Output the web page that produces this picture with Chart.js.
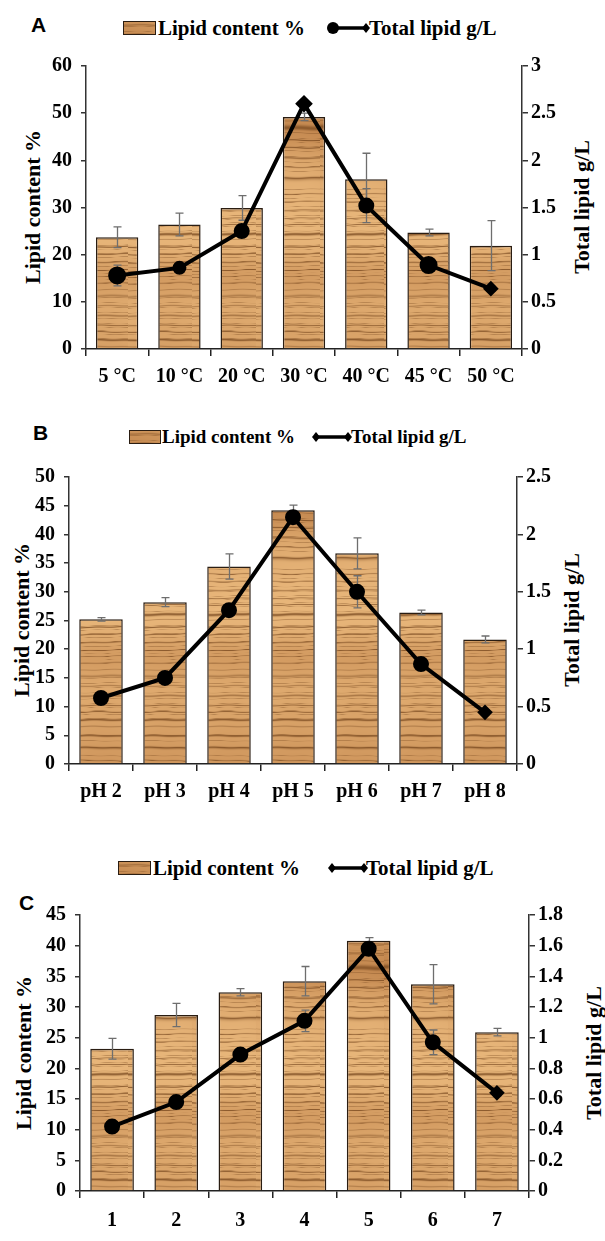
<!DOCTYPE html>
<html>
<head>
<meta charset="utf-8">
<script src="https://cdn.jsdelivr.net/npm/chart.js@4.4.1/dist/chart.umd.min.js"></script>
<style>
  body { margin: 0; background: #fff; }
  #wrap { position: relative; width: 605px; height: 1241px; overflow: hidden; font-family: 'Liberation Serif', 'Times New Roman', serif; color: #000; }
  canvas { position: absolute; left: 0; }
  .lbl { position: absolute; font: bold 21px 'Liberation Sans', Arial, sans-serif; transform: translateY(-50%); }
  .ttl { position: absolute; font-weight: bold; font-size: 22px; white-space: nowrap; transform: translate(-50%, -50%) rotate(-90deg); }
  .leg { position: absolute; font-weight: bold; font-size: 21px; white-space: nowrap; transform: translateY(-50%); }
  .leg.sm { font-size: 19px; }
  .box { position: absolute; height: 12px; border: 1.5px solid #2a1d12; transform: translateY(-50%); }
  svg.mk { position: absolute; transform: translateY(-50%); }
</style>
</head>
<body>
<div id="wrap">
  <div class="lbl" style="left:31px;top:25px">A</div>
  <div class="lbl" style="left:33px;top:433px">B</div>
  <div class="lbl" style="left:19px;top:903px">C</div>

  <!-- legends -->
  <div class="box" style="left:123px;top:28px;width:31px"></div>
  <div class="leg" style="left:158px;top:28px">Lipid content %</div>
  <svg class="mk" style="left:326px;top:28px" width="44" height="14"><line x1="7" y1="7" x2="40" y2="7" stroke="#000" stroke-width="3.5"/><circle cx="7" cy="7" r="6"/><path d="M40 2 L44 7 L40 12 L36 7 Z"/></svg>
  <div class="leg" style="left:369px;top:28px">Total lipid g/L</div>

  <div class="box" style="left:129px;top:437px;width:30px"></div>
  <div class="leg sm" style="left:162px;top:437px">Lipid content %</div>
  <svg class="mk" style="left:312px;top:437px" width="40" height="14"><line x1="4" y1="7" x2="36" y2="7" stroke="#000" stroke-width="3.5"/><path d="M4 2 L8 7 L4 12 L0 7 Z"/><path d="M36 2 L40 7 L36 12 L32 7 Z"/></svg>
  <div class="leg sm" style="left:351px;top:437px">Total lipid g/L</div>

  <div class="box" style="left:118px;top:868px;width:31px"></div>
  <div class="leg" style="left:153px;top:868px">Lipid content %</div>
  <svg class="mk" style="left:328px;top:868px" width="40" height="14"><line x1="4" y1="7" x2="36" y2="7" stroke="#000" stroke-width="3.5"/><path d="M4 2 L8 7 L4 12 L0 7 Z"/><path d="M36 2 L40 7 L36 12 L32 7 Z"/></svg>
  <div class="leg" style="left:366px;top:868px">Total lipid g/L</div>

  <!-- axis titles -->
  <div class="ttl" style="left:33px;top:207px">Lipid content %</div>
  <div class="ttl" style="left:582px;top:207px">Total lipid g/L</div>
  <div class="ttl" style="left:22px;top:620px">Lipid content %</div>
  <div class="ttl" style="left:572px;top:620px">Total lipid g/L</div>
  <div class="ttl" style="left:24px;top:1053px">Lipid content %</div>
  <div class="ttl" style="left:594px;top:1053px">Total lipid g/L</div>

  <canvas id="chartA" width="605" height="370" style="top:40px"></canvas>
  <canvas id="chartB" width="605" height="400" style="top:420px"></canvas>
  <canvas id="chartC" width="605" height="361" style="top:880px"></canvas>
</div>

<script>
// ---- data: panel A (temperature) ----
const tempLabels = ['5 °C', '10 °C', '20 °C', '30 °C', '40 °C', '45 °C', '50 °C'];
const tempLipidContent = [23.7, 26.4, 29.9, 49.2, 36.0, 24.7, 21.9];
const tempLipidContentErr = [2.2, 2.4, 2.6, 0.8, 5.5, 0.7, 5.3];
const tempTotalLipid = [0.78, 0.86, 1.25, 2.6, 1.52, 0.89, 0.64];
const tempTotalLipidErr = [0.11, 0.05, 0.06, 0.03, 0.18, 0.04, 0.03];
const tempLeftTicks = [0, 10, 20, 30, 40, 50, 60];
const tempRightTicks = [0, 0.5, 1, 1.5, 2, 2.5, 3];

// ---- data: panel B (pH) ----
const phLabels = ['pH 2', 'pH 3', 'pH 4', 'pH 5', 'pH 6', 'pH 7', 'pH 8'];
const phLipidContent = [25.2, 28.2, 34.4, 44.2, 36.7, 26.4, 21.7];
const phLipidContentErr = [0.3, 0.8, 2.2, 0.9, 2.7, 0.4, 0.6];
const phTotalLipid = [0.575, 0.75, 1.34, 2.15, 1.5, 0.87, 0.45];
const phTotalLipidErr = [0.03, 0.03, 0.05, 0.05, 0.14, 0.03, 0.02];
const phLeftTicks = [0, 5, 10, 15, 20, 25, 30, 35, 40, 45, 50];
const phRightTicks = [0, 0.5, 1, 1.5, 2, 2.5];

// ---- data: panel C ----
const cLabels = ['1', '2', '3', '4', '5', '6', '7'];
const cLipidContent = [23.2, 28.7, 32.4, 34.2, 40.8, 33.7, 25.9];
const cLipidContentErr = [1.7, 1.9, 0.6, 2.4, 0.5, 3.2, 0.6];
const cTotalLipid = [0.42, 0.58, 0.89, 1.11, 1.58, 0.97, 0.64];
const cTotalLipidErr = [0.02, 0.03, 0.02, 0.07, 0.03, 0.08, 0.02];
const cLeftTicks = [0, 5, 10, 15, 20, 25, 30, 35, 40, 45];
const cRightTicks = [0, 0.2, 0.4, 0.6, 0.8, 1, 1.2, 1.4, 1.6, 1.8];

const serif = "'Liberation Serif', 'Times New Roman', serif";

// wood grain texture for the bars (thin, uneven horizontal streaks)
function makeWood() {
    const c = document.createElement('canvas');
    c.width = 64; c.height = 420;
    const g = c.getContext('2d');
    const img = g.createImageData(c.width, c.height);
    for (let y = 0; y < c.height; y++) {
        for (let x = 0; x < c.width; x++) {
            const t = y + 0.7 * Math.sin(x * 0.045 + y * 0.021) + 0.3 * Math.sin(x * 0.19 + y * 0.07);
            const phi = t * 0.66 + 3.1 * Math.sin(t * 0.029) + 1.8 * Math.sin(t * 0.107 + 0.7) + 0.9 * Math.sin(t * 0.23 + 2.1);
            const strength = 0.5 + 0.5 * Math.pow(0.5 + 0.5 * Math.sin(t * 0.061 + 2.0), 2);
            let line = Math.pow(0.5 + 0.5 * Math.sin(phi), 14) * strength;
            line += 0.45 * Math.pow(0.5 + 0.5 * Math.sin(phi * 1.9 + 1.3), 24);
            line = Math.min(1, line);
            const shade = 0.5 + 0.5 * Math.sin(t * 0.017 + 1.0 + 0.4 * Math.sin(x * 0.04));
            const shade2 = Math.pow(0.5 + 0.5 * Math.sin(t * 0.043 + 4.0), 4);
            const s = 0.6 * shade + 0.4 * shade2;
            let r = 232 - 44 * s, gg = 182 - 56 * s, b = 122 - 52 * s;
            const k = line * 0.8;
            r = r * (1 - k) + 122 * k; gg = gg * (1 - k) + 74 * k; b = b * (1 - k) + 32 * k;
            const p = (y * c.width + x) * 4;
            img.data[p] = r; img.data[p + 1] = gg; img.data[p + 2] = b; img.data[p + 3] = 255;
        }
    }
    g.putImageData(img, 0, 0);
    return c;
}
const wood = makeWood();
document.querySelectorAll('.box').forEach(el => {
    el.style.backgroundImage = 'url(' + wood.toDataURL() + ')';
    el.style.backgroundPosition = '0 -60px';
});

// error bars, drawn right after the bars (before the line)
const errorBarsPlugin = {
    id: 'errBars',
    afterDatasetDraw(chart, args, opts) {
        if (args.index !== 0) return;
        const ctx = chart.ctx;
        ctx.save();
        ctx.strokeStyle = '#6e6e6e';
        ctx.lineWidth = 1.3;
        const draw = (dsIndex, scaleId, errs) => {
            const meta = chart.getDatasetMeta(dsIndex);
            const vals = chart.data.datasets[dsIndex].data;
            const sc = chart.scales[scaleId];
            meta.data.forEach((el, i) => {
                const x = Math.round(el.x) + 0.5;
                const y0 = sc.getPixelForValue(vals[i] - errs[i]);
                const y1 = sc.getPixelForValue(vals[i] + errs[i]);
                ctx.beginPath();
                ctx.moveTo(x, y0); ctx.lineTo(x, y1);
                ctx.moveTo(x - 4, y0); ctx.lineTo(x + 4, y0);
                ctx.moveTo(x - 4, y1); ctx.lineTo(x + 4, y1);
                ctx.stroke();
            });
        };
        draw(0, 'y', opts.barErr);
        draw(1, 'y1', opts.lineErr);
        ctx.restore();
    }
};

function makePanel(id, p) {
    const ctx = document.getElementById(id).getContext('2d');
    const pattern = ctx.createPattern(wood, 'repeat');
    const tickFont = { family: serif, size: 20, weight: 'bold' };
    const numFmt = v => String(+Number(v).toFixed(2));
    new Chart(ctx, {
        data: {
            labels: p.labels,
            datasets: [
                {
                    type: 'bar',
                    label: 'Lipid content %',
                    data: p.bars,
                    backgroundColor: pattern,
                    borderColor: '#2a1d12',
                    borderWidth: 1.5,
                    barPercentage: 0.68,
                    categoryPercentage: 1.0,
                    yAxisID: 'y',
                    order: 2
                },
                {
                    type: 'line',
                    label: 'Total lipid g/L',
                    data: p.line,
                    borderColor: '#000',
                    borderWidth: 4,
                    pointRadius: p.pointRadius,
                    pointStyle: p.pointStyle,
                    pointBackgroundColor: '#000',
                    pointBorderColor: '#000',
                    tension: 0,
                    yAxisID: 'y1',
                    order: 1
                }
            ]
        },
        options: {
            responsive: false,
            animation: false,
            layout: { padding: { top: p.padTop, left: 0, right: 0, bottom: 0 } },
            plugins: {
                legend: { display: false },
                tooltip: { enabled: false },
                errBars: { barErr: p.barErr, lineErr: p.lineErr }
            },
            scales: {
                x: {
                    offset: true,
                    grid: { offset: true, drawOnChartArea: false, color: '#222', lineWidth: 1.5, tickLength: 7 },
                    border: { color: '#222', width: 1.5 },
                    ticks: { color: '#000', font: tickFont, padding: p.xPad, maxRotation: 0, autoSkip: false },
                    afterFit: s => { s.height = p.xHeight; }
                },
                y: {
                    position: 'left',
                    min: p.leftTicks[0],
                    max: p.leftTicks[p.leftTicks.length - 1],
                    afterBuildTicks: s => { s.ticks = p.leftTicks.map(v => ({ value: v })); },
                    grid: { drawOnChartArea: false, color: '#333', lineWidth: 1.5, tickLength: 5 },
                    border: { color: '#333', width: 1.5 },
                    ticks: { color: '#000', font: tickFont, padding: 9, callback: numFmt },
                    afterFit: s => { s.width = p.leftW; }
                },
                y1: {
                    position: 'right',
                    min: p.rightTicks[0],
                    max: p.rightTicks[p.rightTicks.length - 1],
                    afterBuildTicks: s => { s.ticks = p.rightTicks.map(v => ({ value: v })); },
                    grid: { drawOnChartArea: false, color: '#333', lineWidth: 1.5, tickLength: 6 },
                    border: { color: '#333', width: 1.5 },
                    ticks: { color: '#000', font: tickFont, padding: 3, callback: numFmt },
                    afterFit: s => { s.width = p.rightW; }
                }
            }
        },
        plugins: [errorBarsPlugin]
    });
}

makePanel('chartA', {
    labels: tempLabels, bars: tempLipidContent, line: tempTotalLipid,
    barErr: tempLipidContentErr, lineErr: tempTotalLipidErr,
    leftTicks: tempLeftTicks, rightTicks: tempRightTicks,
    pointStyle: ['circle', 'circle', 'circle', 'rectRot', 'circle', 'circle', 'rectRot'],
    pointRadius: [7, 5, 6, 6, 6, 7, 5],
    padTop: 26, xHeight: 61, xPad: 9, leftW: 86, rightW: 83
});

makePanel('chartB', {
    labels: phLabels, bars: phLipidContent, line: phTotalLipid,
    barErr: phLipidContentErr, lineErr: phTotalLipidErr,
    leftTicks: phLeftTicks, rightTicks: phRightTicks,
    pointStyle: ['circle', 'circle', 'circle', 'circle', 'circle', 'circle', 'rectRot'],
    pointRadius: [6, 6, 6, 6, 6, 6, 5],
    padTop: 57, xHeight: 56, xPad: 9, leftW: 69, rightW: 88
});

makePanel('chartC', {
    labels: cLabels, bars: cLipidContent, line: cTotalLipid,
    barErr: cLipidContentErr, lineErr: cTotalLipidErr,
    leftTicks: cLeftTicks, rightTicks: cRightTicks,
    pointStyle: ['circle', 'circle', 'circle', 'circle', 'circle', 'circle', 'rectRot'],
    pointRadius: [6, 6, 6, 6, 6, 6, 5],
    padTop: 35, xHeight: 50, xPad: 11, leftW: 80, rightW: 76
});
</script>
</body>
</html>
